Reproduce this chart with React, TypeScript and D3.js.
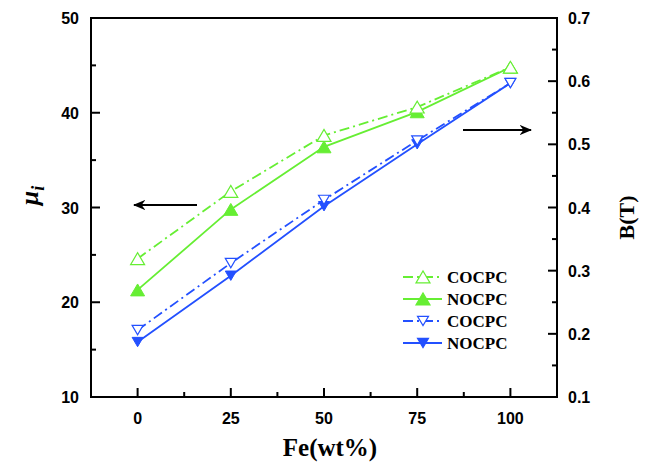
import React from "react";
import * as d3 from "d3";

const feValues = [0, 25, 50, 75, 100];
const muCOCPC = [24.6, 31.7, 37.6, 40.6, 44.8];
const muNOCPC = [21.3, 29.8, 36.4, 40.1, 44.8];
const bCOCPC = [0.206, 0.312, 0.412, 0.506, 0.597];
const bNOCPC = [0.187, 0.292, 0.402, 0.5, 0.597];
const xTicks = [0, 25, 50, 75, 100];
const yLeftTicks = [10, 20, 30, 40, 50];
const yRightTicks = [0.1, 0.2, 0.3, 0.4, 0.5, 0.6, 0.7];
const legendLabels = ["COCPC", "NOCPC", "COCPC", "NOCPC"];

const GREEN = "#66EE33";
const BLUE = "#2350FF";
const W = 646, H = 465;
const L = 91, R = 557, T = 18, B = 397;

const x = d3.scaleLinear().domain([-12.5, 112.5]).range([L, R]);
const yL = d3.scaleLinear().domain([10, 50]).range([B, T]);
const yR = d3.scaleLinear().domain([0.1, 0.7]).range([B, T]);

function tri(cx: number, cy: number, w: number, up: boolean) {
  const h = w * 0.85;
  const s = up ? 1 : -1;
  return `M${cx - w / 2},${cy + (s * h) / 2}L${cx + w / 2},${cy + (s * h) / 2}L${cx},${cy - (s * h) / 2}Z`;
}

const DASH = "10,4,2,4";
const numStyle = { fontFamily: "Liberation Sans", fontWeight: "bold" as const, fontSize: 16 };
const serifBold = { fontFamily: "Liberation Serif", fontWeight: "bold" as const };

export default function App() {
  const lineL = d3.line<number>().x((_, i) => x(feValues[i])).y((d) => yL(d));
  const lineR = d3.line<number>().x((_, i) => x(feValues[i])).y((d) => yR(d));

  const minorX = [12.5, 37.5, 62.5, 87.5];
  const minorYL = [15, 25, 35, 45];
  const minorYR = [0.15, 0.25, 0.35, 0.45, 0.55, 0.65];

  const legendRows = [
    { y: 277, color: GREEN, dash: DASH, up: true, filled: false, w: 14 },
    { y: 299, color: GREEN, dash: null, up: true, filled: true, w: 14 },
    { y: 321, color: BLUE, dash: DASH, up: false, filled: false, w: 11 },
    { y: 343, color: BLUE, dash: null, up: false, filled: true, w: 11 },
  ];

  return (
    <svg width={W} height={H} style={{ position: "absolute", left: 0, top: 0, background: "#fff" }}>
      <rect x={0} y={0} width={W} height={H} fill="#fff" />
      <path d={lineL(muNOCPC) || ""} fill="none" stroke={GREEN} strokeWidth={1.8} />
      <path d={lineR(bNOCPC) || ""} fill="none" stroke={BLUE} strokeWidth={1.8} />
      {muNOCPC.map((v, i) => (
        <path key={"gn" + i} d={tri(x(feValues[i]), yL(v), 14, true)} fill={GREEN} stroke={GREEN} strokeWidth={1} />
      ))}
      {bNOCPC.map((v, i) => (
        <path key={"bn" + i} d={tri(x(feValues[i]), yR(v), 11, false)} fill={BLUE} stroke={BLUE} strokeWidth={1} />
      ))}
      <path d={lineL(muCOCPC) || ""} fill="none" stroke={GREEN} strokeWidth={1.8} strokeDasharray={DASH} />
      <path d={lineR(bCOCPC) || ""} fill="none" stroke={BLUE} strokeWidth={1.8} strokeDasharray={DASH} />
      {muCOCPC.map((v, i) => (
        <path key={"gc" + i} d={tri(x(feValues[i]), yL(v), 14, true)} fill="#fff" stroke={GREEN} strokeWidth={1.2} />
      ))}
      {bCOCPC.map((v, i) => (
        <path key={"bc" + i} d={tri(x(feValues[i]), yR(v), 11, false)} fill="#fff" stroke={BLUE} strokeWidth={1.2} />
      ))}

      <rect x={L} y={T} width={R - L} height={B - T} fill="none" stroke="#000" strokeWidth={2} />

      {xTicks.map((v) => (
        <g key={"xt" + v}>
          <line x1={x(v)} x2={x(v)} y1={B} y2={B - 9} stroke="#000" strokeWidth={2} />
          <text x={x(v)} y={B + 27} textAnchor="middle" style={numStyle}>
            {v}
          </text>
        </g>
      ))}
      {minorX.map((v) => (
        <line key={"xm" + v} x1={x(v)} x2={x(v)} y1={B} y2={B - 5} stroke="#000" strokeWidth={2} />
      ))}

      {yLeftTicks.map((v) => (
        <g key={"yl" + v}>
          <line x1={L} x2={L + 9} y1={yL(v)} y2={yL(v)} stroke="#000" strokeWidth={2} />
          <text x={L - 12} y={yL(v) + 6} textAnchor="end" style={numStyle}>
            {v}
          </text>
        </g>
      ))}
      {minorYL.map((v) => (
        <line key={"ylm" + v} x1={L} x2={L + 5} y1={yL(v)} y2={yL(v)} stroke="#000" strokeWidth={2} />
      ))}

      {yRightTicks.map((v) => (
        <g key={"yr" + v}>
          <line x1={R} x2={R - 9} y1={yR(v)} y2={yR(v)} stroke="#000" strokeWidth={2} />
          <text x={R + 11} y={yR(v) + 6} textAnchor="start" style={numStyle}>
            {v.toFixed(1)}
          </text>
        </g>
      ))}
      {minorYR.map((v) => (
        <line key={"yrm" + v} x1={R} x2={R - 5} y1={yR(v)} y2={yR(v)} stroke="#000" strokeWidth={2} />
      ))}

      <text x={(L + R) / 2 + 6} y={456} textAnchor="middle" style={{ ...serifBold, fontSize: 25 }}>
        Fe(wt%)
      </text>
      <text
        transform={`translate(634,${(T + B) / 2 + 10}) rotate(-90)`}
        textAnchor="middle"
        style={{ ...serifBold, fontSize: 22 }}
      >
        B(T)
      </text>
      <text
        transform={`translate(38,${(T + B) / 2 - 12}) rotate(-90)`}
        textAnchor="middle"
        style={{ ...serifBold, fontStyle: "italic", fontSize: 26 }}
      >
        μ
        <tspan style={{ fontSize: 18 }} dy={6}>i</tspan>
      </text>

      <defs>
        <marker id="ah" viewBox="0 0 10 10" refX={9} refY={5} markerWidth={7} markerHeight={7} orient="auto">
          <path d="M0,1L10,5L0,9L3,5Z" fill="#000" />
        </marker>
      </defs>
      <line x1={197} y1={205} x2={134} y2={205} stroke="#000" strokeWidth={1.8} markerEnd="url(#ah)" />
      <line x1={463} y1={130} x2={531} y2={130} stroke="#000" strokeWidth={1.8} markerEnd="url(#ah)" />

      {legendRows.map((r, i) => (
        <g key={"lg" + i}>
          <line
            x1={403}
            x2={442}
            y1={r.y}
            y2={r.y}
            stroke={r.color}
            strokeWidth={1.8}
            strokeDasharray={r.dash || undefined}
          />
          <path
            d={tri(423, r.y, r.w, r.up)}
            fill={r.filled ? r.color : "#fff"}
            stroke={r.color}
            strokeWidth={1.2}
          />
          <text x={447} y={r.y + 6} style={{ ...serifBold, fontSize: 17 }}>
            {legendLabels[i]}
          </text>
        </g>
      ))}
    </svg>
  );
}
